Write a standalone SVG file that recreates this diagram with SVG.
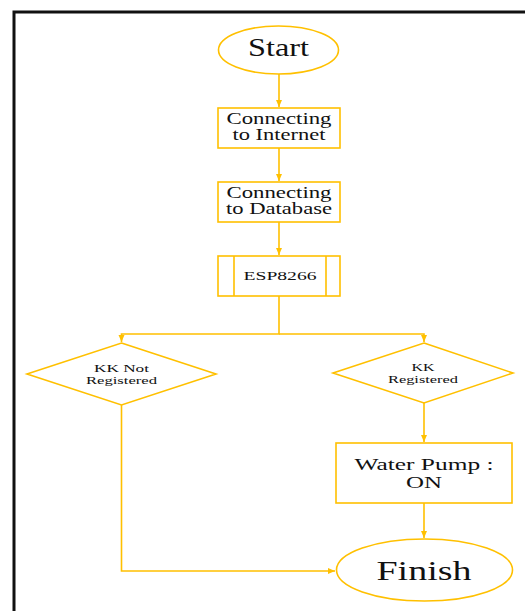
<svg xmlns="http://www.w3.org/2000/svg" width="525" height="611" viewBox="0 0 525 611">
<style>
.s{fill:#fff;stroke:#FFC000;stroke-width:1.6}
.c{fill:none;stroke:#FFC000;stroke-width:1.6}
.t{fill:#111;text-anchor:middle}
</style>
<defs>
<marker id="a" markerWidth="8" markerHeight="8" refX="7" refY="4" orient="auto" markerUnits="userSpaceOnUse">
<path d="M0,1 L7,4 L0,7 Z" fill="#FFC000"/>
</marker>
</defs>
<rect width="525" height="611" fill="#fff"/>
<path d="M14,611 V12 H525" fill="none" stroke="#111" stroke-width="3"/>
<g id="connectors">
<path class="c" d="M279,74 V107" marker-end="url(#a)"/>
<path class="c" d="M279,148 V181" marker-end="url(#a)"/>
<path class="c" d="M279,222 V255" marker-end="url(#a)"/>
<path class="c" d="M279,296 V334 H121.5 V342" marker-end="url(#a)"/>
<path class="c" d="M279,334 H424 V342" marker-end="url(#a)"/>
<path class="c" d="M424,403 V442" marker-end="url(#a)"/>
<path class="c" d="M424,503 V538" marker-end="url(#a)"/>
<path class="c" d="M121.5,405 V571 H335" marker-end="url(#a)"/>
</g>
<g font-family="Liberation Serif, Times New Roman, DejaVu Serif, serif">
<g id="start">
<ellipse class="s" cx="278.5" cy="50" rx="60" ry="24"/>
<text class="t" x="278.5" y="56" font-size="26" textLength="61" lengthAdjust="spacingAndGlyphs">Start</text>
</g>
<g id="internet">
<rect class="s" x="218" y="108" width="122" height="40"/>
<text class="t" x="279" y="124" font-size="16" textLength="105" lengthAdjust="spacingAndGlyphs">Connecting</text>
<text class="t" x="279" y="140" font-size="16" textLength="93" lengthAdjust="spacingAndGlyphs">to Internet</text>
</g>
<g id="database">
<rect class="s" x="218" y="182" width="122" height="40"/>
<text class="t" x="279" y="198" font-size="16" textLength="105" lengthAdjust="spacingAndGlyphs">Connecting</text>
<text class="t" x="279" y="214" font-size="16" textLength="106" lengthAdjust="spacingAndGlyphs">to Database</text>
</g>
<g id="esp">
<rect class="s" x="218" y="256" width="122" height="40"/>
<path class="c" d="M234,256 V296 M326,256 V296"/>
<text class="t" x="280" y="280" font-size="13.5" textLength="73" lengthAdjust="spacingAndGlyphs">ESP8266</text>
</g>
<g id="notreg">
<path class="s" d="M121.5,343 L216,374 L121.5,405 L27,374 Z"/>
<text class="t" x="121.5" y="371.5" font-size="11" textLength="55" lengthAdjust="spacingAndGlyphs">KK Not</text>
<text class="t" x="121.5" y="383.5" font-size="11" textLength="71" lengthAdjust="spacingAndGlyphs">Registered</text>
</g>
<g id="reg">
<path class="s" d="M424,343 L513,373 L424,403 L333,373 Z"/>
<text class="t" x="423" y="370.5" font-size="11" textLength="23" lengthAdjust="spacingAndGlyphs">KK</text>
<text class="t" x="423" y="382.5" font-size="11" textLength="70" lengthAdjust="spacingAndGlyphs">Registered</text>
</g>
<g id="pump">
<rect class="s" x="336" y="443" width="176" height="60"/>
<text class="t" x="424" y="470" font-size="17" textLength="139" lengthAdjust="spacingAndGlyphs">Water Pump :</text>
<text class="t" x="424" y="488" font-size="17" textLength="36" lengthAdjust="spacingAndGlyphs">ON</text>
</g>
<g id="finish">
<ellipse class="s" cx="424.5" cy="570" rx="88" ry="31"/>
<text class="t" x="424" y="580" font-size="28" textLength="95" lengthAdjust="spacingAndGlyphs">Finish</text>
</g>
</g>
</svg>
